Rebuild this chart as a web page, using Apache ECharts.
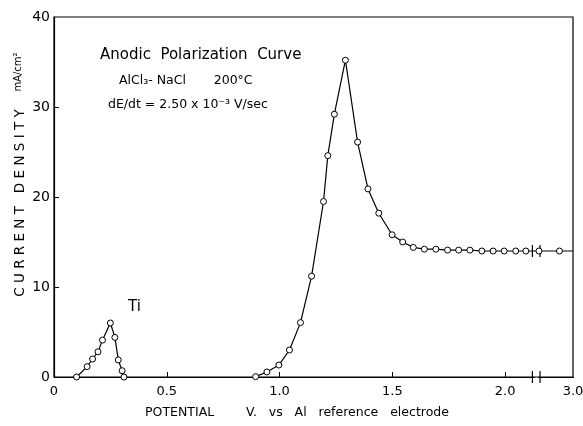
<!DOCTYPE html>
<html>
<head>
<meta charset="utf-8">
<script src="https://cdn.jsdelivr.net/npm/echarts@6/dist/echarts.min.js"></script>
<style>html,body{margin:0;padding:0;background:#fff}#c{width:583px;height:426px}</style>
</head>
<body>
<div id="c"></div>
<script>
// Titanium peak (potential V, current density mA/cm2)
const tiPotential = [0.10, 0.147, 0.171, 0.195, 0.215, 0.25, 0.27, 0.285, 0.302, 0.31];
const tiCurrent   = [0.0, 1.15, 2.0, 2.8, 4.1, 6.0, 4.4, 1.9, 0.7, 0.0];
// Aluminium peak and passive plateau
const alPotential = [0.894, 0.944, 0.997, 1.044, 1.093, 1.142, 1.195, 1.214, 1.243, 1.292, 1.346, 1.392, 1.44, 1.499, 1.546, 1.593, 1.642, 1.693, 1.745, 1.794, 1.844, 1.897, 1.947, 1.996, 2.047, 2.092, 2.849, 2.94, 3.0];
const alCurrent   = [0.04, 0.56, 1.33, 3.0, 6.04, 11.2, 19.5, 24.6, 29.2, 35.2, 26.1, 20.9, 18.2, 15.8, 15.0, 14.4, 14.2, 14.2, 14.1, 14.1, 14.1, 14.0, 14.0, 14.0, 14.0, 14.0, 14.0, 14.0, 14.0];
const xTicks = [0, 0.5, 1.0, 1.5, 2.0, 3.0];
const yTicks = [0, 10, 20, 30, 40];
const breakStart = 2.13, breakEnd = 2.845;

const FONT = 'DejaVu Sans';
const chart = echarts.init(document.getElementById('c'), null, {renderer: 'canvas'});

function pairs(xs, ys, lastNoSymbol) {
  return xs.map((x, i) => {
    const d = {value: [x, ys[i]]};
    if (lastNoSymbol && i === xs.length - 1) d.symbolSize = 0;
    return d;
  });
}

chart.setOption({
  backgroundColor: '#fff',
  animation: false,
  grid: {left: 54, right: 10, top: 17, bottom: 49, show: true, borderColor: '#000', borderWidth: 1.2, outerBoundsMode: 'none'},
  xAxis: {
    type: 'value', min: 0, max: 3, interval: 0.5,
    breaks: [{start: breakStart, end: breakEnd, gap: '0.7%'}],
    breakArea: {show: true, zigzagAmplitude: 0, itemStyle: {color: 'rgba(0,0,0,0)', borderColor: 'rgba(0,0,0,0)', borderWidth: 0}},
    axisLine: {show: true, onZero: false, lineStyle: {color: '#000', width: 1.2}},
    axisTick: {show: true, inside: true, length: 5, lineStyle: {color: '#000'}, customValues: xTicks.slice(1, 5)},
    splitLine: {show: false},
    axisLabel: {
      color: '#000', fontFamily: FONT, fontSize: 13, margin: 8,
      customValues: xTicks, showMinLabel: true, showMaxLabel: true, hideOverlap: false,
      formatter: function (v) { return v === 0 ? '0' : v.toFixed(1); }
    }
  },
  yAxis: {
    type: 'value', min: 0, max: 40, interval: 10,
    axisLine: {show: true, lineStyle: {color: '#000', width: 1.2}},
    axisTick: {show: true, inside: true, length: 5, lineStyle: {color: '#000'}, customValues: yTicks.slice(1, 4)},
    splitLine: {show: false},
    axisLabel: {color: '#000', fontFamily: FONT, fontSize: 14, margin: 4, customValues: yTicks}
  },
  graphic: [
    {type: 'text', left: 100, top: 48, style: {text: 'Anodic  Polarization  Curve', font: '15px ' + FONT, fill: '#000'}},
    {type: 'text', left: 119, top: 74, style: {text: 'AlCl\u2083- NaCl       200\u00B0C', font: '12.5px ' + FONT, fill: '#000'}},
    {type: 'text', left: 108, top: 98, style: {text: 'dE/dt = 2.50 x 10\u207B\u00B3 V/sec', font: '12.5px ' + FONT, fill: '#000'}},
    {type: 'text', left: 128, top: 300, style: {text: 'Ti', font: '15px ' + FONT, fill: '#000'}},
    {type: 'text', x: 297, y: 413, style: {text: 'POTENTIAL        V.   vs   Al   reference   electrode', font: '12.5px ' + FONT, fill: '#000', align: 'center', verticalAlign: 'middle'}},
    {type: 'text', x: 20, y: 203, rotation: Math.PI / 2, style: {text: 'C U R R E N T   D E N S I T Y', font: '13.5px ' + FONT, fill: '#000', align: 'center', verticalAlign: 'middle'}},
    {type: 'text', x: 18, y: 72, rotation: Math.PI / 2, style: {text: 'mA/cm\u00B2', font: '10px ' + FONT, fill: '#000', align: 'center', verticalAlign: 'middle'}}
  ],
  series: [
    {
      type: 'line', data: pairs(tiPotential, tiCurrent, false),
      symbol: 'circle', symbolSize: 6, showAllSymbol: true,
      lineStyle: {color: '#000', width: 1.2},
      itemStyle: {color: '#fff', borderColor: '#000', borderWidth: 1}
    },
    {
      type: 'line', data: pairs(alPotential, alCurrent, true),
      symbol: 'circle', symbolSize: 6, showAllSymbol: true,
      lineStyle: {color: '#000', width: 1.2},
      itemStyle: {color: '#fff', borderColor: '#000', borderWidth: 1}
    },
    {
      type: 'custom', silent: true,
      data: [[breakStart, 0], [breakEnd, 0], [breakStart, 14.0], [breakEnd, 14.0]],
      renderItem: function (params, api) {
        const p = api.coord([api.value(0), api.value(1)]);
        const off = api.value(0) === breakStart ? -2 : 2;
        return {type: 'line', shape: {x1: p[0] + off, y1: p[1] - 6, x2: p[0] + off, y2: p[1] + 6}, style: {stroke: '#000', lineWidth: 1.2}};
      }
    }
  ]
});
</script>
</body>
</html>
